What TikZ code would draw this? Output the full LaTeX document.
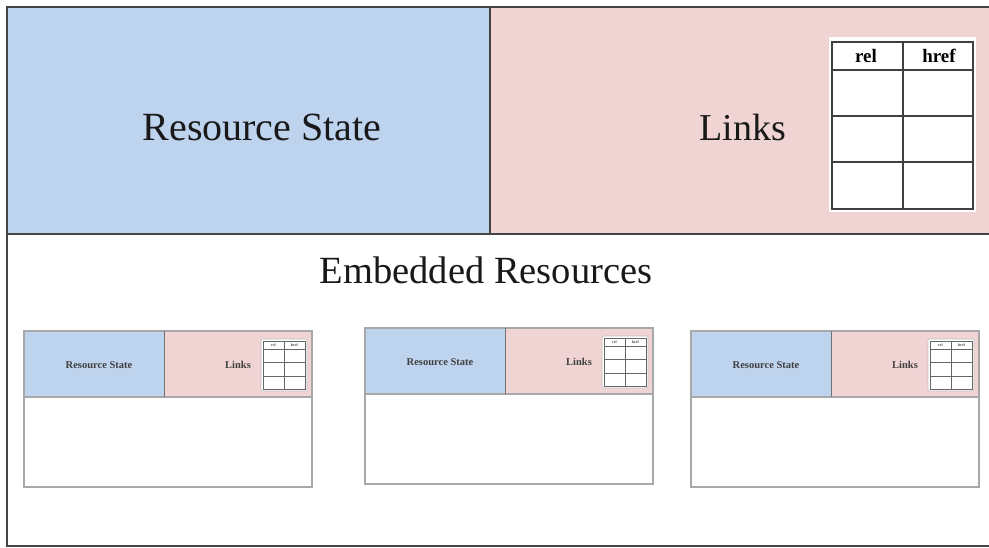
\documentclass[tikz,border=0pt]{standalone}
\usepackage{fontspec}
\setmainfont{Liberation Serif}
\definecolor{rsblue}{HTML}{BED3EE}
\definecolor{lkpink}{HTML}{F0D4D4}
\definecolor{framegray}{HTML}{444444}
\definecolor{sgray}{HTML}{A8A8A8}
\tikzset{
  frame/.style={draw=framegray, line width=1.3pt},
  bigtext/.style={text=black!90, inner sep=0pt},
  sframe/.style={draw=sgray, line width=1.1pt},
  sdiv/.style={draw=black!55, line width=1pt},
  stext/.style={text=black!75, inner sep=0pt, font=\bfseries\fontsize{10.5}{13}\selectfont},
  tgrid/.style={draw=black!75, line width=1.2pt},
  sgrid/.style={draw=black!60, line width=0.7pt},
  thead/.style={inner sep=0pt, font=\bfseries\fontsize{19}{22}\selectfont},
  shead/.style={inner sep=0pt, text=black!70, font=\bfseries\fontsize{4}{5}\selectfont},
}
\newcommand\embbox[3]{%
\begin{scope}[shift={(#1,#2)}]
  \fill[rsblue] (0,0) rectangle (140,66);
  \fill[lkpink] (140,0) rectangle (288,66);
  \draw[sframe] (0,0) rectangle (288,156);
  \draw[sframe] (0,66) -- (288,66);
  \draw[sdiv] (140,0) -- (140,66);
  \node[stext] (#3rs) at (75,34) {Resource State};
  \node[stext] (#3lk) at (214,34) {Links};
  \fill[white, draw=black!25, line width=0.6pt, rounded corners=1.5pt] (237,8) rectangle (283,60);
  \draw[sgrid] (239,10) rectangle (281,58);
  \draw[sgrid] (260,10) -- (260,58);
  \draw[sgrid] (239,18) -- (281,18);
  \draw[sgrid] (239,31) -- (281,31);
  \draw[sgrid] (239,45) -- (281,45);
  \node[shead] (#3rel) at (249.5,14) {rel};
  \node[shead] (#3href) at (270.5,14) {href};
\end{scope}}
\begin{document}
\begin{tikzpicture}[x=1pt,y=-1pt]
\useasboundingbox (0,0) rectangle (989,547);
\fill[white] (0,0) rectangle (989,547);
% top band
\fill[rsblue] (7,7) rectangle (490,234);
\fill[lkpink] (490,7) rectangle (992,234);
\draw[frame] (992,7) -- (7,7) -- (7,546) -- (992,546);
\draw[frame] (7,234) -- (992,234);
\draw[frame] (490,7) -- (490,234);
\node[bigtext, font=\fontsize{40}{48}\selectfont] (rs) at (262,127) {Resource State};
\node[bigtext, font=\fontsize{38}{46}\selectfont] (lk) at (743,127) {Links};
% links table
\fill[white] (829,37) rectangle (976,212);
\draw[tgrid] (832,42) rectangle (973,209);
\draw[tgrid] (903,42) -- (903,209);
\draw[tgrid] (832,70) -- (973,70);
\draw[tgrid] (832,116) -- (973,116);
\draw[tgrid] (832,162) -- (973,162);
\node[thead] (rel) at (866,56) {rel};
\node[thead] (href) at (939,56) {href};
% embedded
\node[bigtext, font=\fontsize{38.5}{46}\selectfont] (emb) at (486,270) {Embedded Resources};
\embbox{24}{331}{ea}
\embbox{365}{328}{eb}
\embbox{691}{331}{ec}
\end{tikzpicture}
\end{document}
